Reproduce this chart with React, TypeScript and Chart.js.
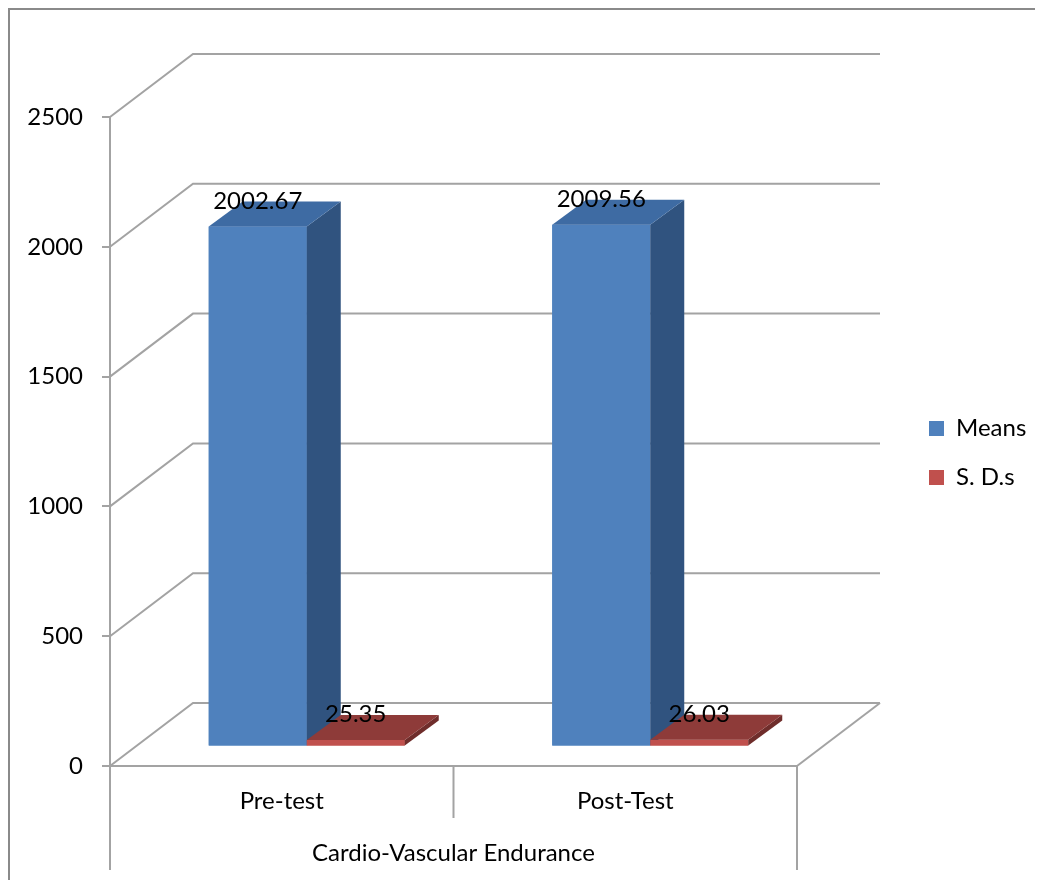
import React, { useEffect, useRef } from 'react';
import { Chart, registerables } from 'chart.js';

Chart.register(...registerables);

// ---- data ----
const categories = ['Pre-test', 'Post-Test'];
const axisTitle = 'Cardio-Vascular Endurance';
const seriesNames = ['Means', 'S. D.s'];
const meansValues = [2002.67, 2009.56];
const sdValues = [25.35, 26.03];
const yTicks = [0, 500, 1000, 1500, 2000, 2500];

// ---- styling ----
const FONT = 'Lato';
const FS = 24;
const GRID = '#a3a3a3';
const WALL_DX = 83;
const WALL_DY = -63;
const BAR_DX = 25;
const BAR_DY = -19.5;
const DEPTH_DX = 34;
const DEPTH_DY = -25;
const LEGEND_PAD = 25;

const faceColors = [
  { front: '#4F81BD', top: '#3E6BA3', side: '#30537F' },
  { front: '#C0504D', top: '#8E3B39', side: '#6F2D2B' },
];

const threeD = {
  id: 'threeD',
  beforeDraw(chart: any) {
    const { ctx, width, height } = chart;
    ctx.save();
    ctx.fillStyle = '#ffffff';
    ctx.fillRect(0, 0, width, height);
    ctx.strokeStyle = '#8a8a8a';
    ctx.lineWidth = 2;
    ctx.beginPath();
    ctx.moveTo(1, height);
    ctx.lineTo(1, 1);
    ctx.lineTo(width, 1);
    ctx.stroke();
    ctx.restore();
  },
  afterLayout(chart: any) {
    const lg = chart.legend;
    if (!lg) return;
    const pad = lg.options.labels.padding;
    const ca = chart.chartArea;
    lg.left = ca.right + 132 - pad;
    lg.top = ca.top + 299.5 - pad;
    lg.right = chart.width;
    lg.bottom = chart.height;
    lg.width = lg.right - lg.left;
    lg.height = lg.bottom - lg.top;
  },
  beforeDatasetsDraw(chart: any) {
    const { ctx, chartArea } = chart;
    const y = chart.scales.y;
    const x = chart.scales.x;
    const { left, right, bottom } = chartArea;
    ctx.save();
    ctx.strokeStyle = GRID;
    ctx.lineWidth = 2;
    // back wall grid lines with diagonals on the side wall
    y.ticks.forEach((t: any) => {
      const yp = y.getPixelForValue(t.value);
      ctx.beginPath();
      ctx.moveTo(left, yp);
      ctx.lineTo(left + WALL_DX, yp + WALL_DY);
      ctx.lineTo(right + WALL_DX, yp + WALL_DY);
      ctx.stroke();
    });
    // floor right edge
    ctx.beginPath();
    ctx.moveTo(right, bottom);
    ctx.lineTo(right + WALL_DX, bottom + WALL_DY);
    ctx.stroke();
    // category axis dividers
    const mid = (x.getPixelForValue(0) + x.getPixelForValue(1)) / 2;
    ctx.beginPath();
    ctx.moveTo(left, bottom);
    ctx.lineTo(left, bottom + 104);
    ctx.moveTo(right, bottom);
    ctx.lineTo(right, bottom + 104);
    ctx.moveTo(mid, bottom);
    ctx.lineTo(mid, bottom + 52);
    ctx.stroke();
    ctx.restore();
  },
  beforeDatasetDraw(chart: any) {
    chart.ctx.save();
    chart.ctx.translate(BAR_DX, BAR_DY);
  },
  afterDatasetDraw(chart: any) {
    chart.ctx.restore();
  },
  afterDatasetsDraw(chart: any) {
    const ctx = chart.ctx;
    // 3D boxes, series by series (front face redrawn by the element, then side and top)
    ctx.save();
    ctx.translate(BAR_DX, BAR_DY);
    chart.data.datasets.forEach((ds: any, i: number) => {
      const meta = chart.getDatasetMeta(i);
      const col = faceColors[i];
      meta.data.forEach((el: any) => {
        el.draw(ctx);
        const { x, y, base, width } = el.getProps(['x', 'y', 'base', 'width'], true);
        const l = x - width / 2;
        const r = x + width / 2;
        ctx.fillStyle = col.side;
        ctx.beginPath();
        ctx.moveTo(r, y);
        ctx.lineTo(r + DEPTH_DX, y + DEPTH_DY);
        ctx.lineTo(r + DEPTH_DX, base + DEPTH_DY);
        ctx.lineTo(r, base);
        ctx.closePath();
        ctx.fill();
        ctx.fillStyle = col.top;
        ctx.beginPath();
        ctx.moveTo(l, y);
        ctx.lineTo(r, y);
        ctx.lineTo(r + DEPTH_DX, y + DEPTH_DY);
        ctx.lineTo(l + DEPTH_DX, y + DEPTH_DY);
        ctx.closePath();
        ctx.fill();
      });
    });
    ctx.restore();
    // data labels
    ctx.save();
    ctx.fillStyle = '#000';
    ctx.font = `${FS}px ${FONT}`;
    ctx.textAlign = 'center';
    ctx.textBaseline = 'alphabetic';
    chart.data.datasets.forEach((ds: any, i: number) => {
      const meta = chart.getDatasetMeta(i);
      meta.data.forEach((el: any, j: number) => {
        const { x, y } = el.getProps(['x', 'y'], true);
        ctx.fillText(Number(ds.data[j]).toFixed(2), x + BAR_DX, y + BAR_DY - 18);
      });
    });
    ctx.restore();
  },
};

export default function App() {
  const ref = useRef<HTMLCanvasElement>(null);
  useEffect(() => {
    Chart.defaults.font.family = FONT;
    Chart.defaults.font.size = FS;
    Chart.defaults.color = '#000';
    const chart = new Chart(ref.current as HTMLCanvasElement, {
      type: 'bar',
      data: {
        labels: categories,
        datasets: [
          {
            label: seriesNames[0],
            data: meansValues,
            backgroundColor: faceColors[0].front,
            borderWidth: 0,
            barPercentage: 1,
            categoryPercentage: 0.5706,
          },
          {
            label: seriesNames[1],
            data: sdValues,
            backgroundColor: faceColors[1].front,
            borderWidth: 0,
            barPercentage: 1,
            categoryPercentage: 0.5706,
          },
        ],
      },
      options: {
        responsive: false,
        animation: false,
        events: [],
        layout: { padding: { top: 109, left: 0, right: 238, bottom: 0 } },
        scales: {
          x: {
            grid: { display: false, drawTicks: false },
            border: { display: true, color: GRID, width: 2 },
            ticks: { padding: 21, color: '#000', font: { family: FONT, size: FS } },
            title: {
              display: true,
              text: axisTitle,
              color: '#000',
              font: { family: FONT, size: FS },
              padding: { top: 0, bottom: 12 },
            },
            afterFit: (s: any) => {
              s.height = 114;
            },
          },
          y: {
            min: 0,
            max: 2500,
            afterBuildTicks: (s: any) => {
              s.ticks = yTicks.map((v) => ({ value: v }));
            },
            grid: {
              display: true,
              drawOnChartArea: false,
              drawTicks: true,
              tickLength: 8,
              color: GRID,
              lineWidth: 2,
            },
            border: { display: true, color: GRID, width: 2 },
            ticks: {
              padding: 19,
              color: '#000',
              font: { family: FONT, size: FS },
              callback: (v: any) => String(v),
            },
            afterFit: (s: any) => {
              s.width = 102;
            },
          },
        },
        plugins: {
          legend: {
            display: true,
            position: 'chartArea' as any,
            align: 'start',
            labels: {
              boxWidth: 15,
              boxHeight: 15,
              padding: LEGEND_PAD,
              color: '#000',
              font: { family: FONT, size: FS },
            },
          },
          tooltip: { enabled: false },
        },
      },
      plugins: [threeD],
    });
    return () => chart.destroy();
  }, []);
  return <canvas ref={ref} width={1027} height={872} style={{ display: 'block' }} />;
}
